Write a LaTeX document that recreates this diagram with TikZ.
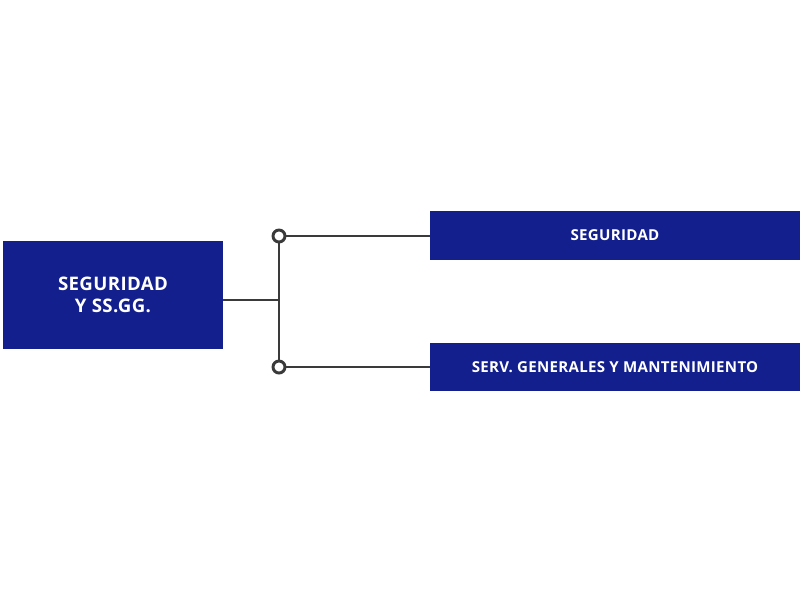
\documentclass[tikz,border=0pt]{standalone}
\usepackage{fontspec}
\setmainfont{Open Sans}[LetterSpace=2]
\definecolor{boxblue}{HTML}{131F8C}
\definecolor{linegray}{HTML}{3A3A3A}
\tikzset{
  unit/.style={fill=boxblue, draw=none, inner sep=0pt, text=white, align=center},
  link/.style={draw=linegray, line width=2.2pt},
  knob/.style={circle, draw=linegray, line width=2.2pt, fill=white, minimum size=9pt, inner sep=0pt}
}
\begin{document}
\begin{tikzpicture}[x=0.75pt, y=-0.75pt]
\useasboundingbox (0,0) rectangle (800,601);
\node[unit, minimum width=165pt, minimum height=81pt, font=\bfseries\fontsize{14}{17}\selectfont] (root) at (113,295) {SEGURIDAD\\Y SS.GG.};
\node[unit, minimum width=277.5pt, minimum height=37pt, font=\bfseries\fontsize{11.3}{13}\selectfont] (s1) at (615,235.5) {SEGURIDAD};
\node[unit, minimum width=277.5pt, minimum height=36pt, font=\bfseries\fontsize{11.3}{13}\selectfont] (s2) at (615,367) {SERV. GENERALES Y MANTENIMIENTO};
\coordinate (j) at (279,300);
\node[knob] (k1) at (279,236) {};
\node[knob] (k2) at (279,367) {};
\draw[link] (root.east |- j) -- (j);
\draw[link] (k1) -- (k2);
\draw[link] (k1) -- (s1.west |- k1);
\draw[link] (k2) -- (s2.west |- k2);
\end{tikzpicture}
\end{document}
